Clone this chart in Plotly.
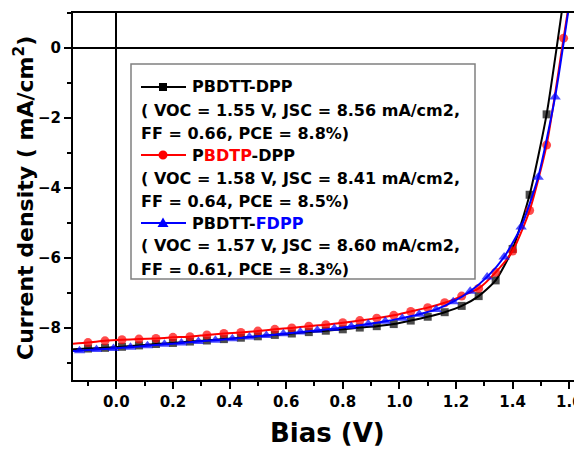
import plotly.graph_objects as go

# ---------------- data ----------------
bias_dpp = [-0.153, -0.10, -0.04, 0.02, 0.08, 0.14, 0.20, 0.26, 0.32, 0.38, 0.44, 0.50, 0.56, 0.62, 0.68,
            0.74, 0.80, 0.86, 0.92, 0.98, 1.04, 1.10, 1.16, 1.22, 1.28, 1.34, 1.40, 1.46, 1.52, 1.58, 1.64]
j_pbdtt_dpp = [-8.62, -8.60, -8.58, -8.55, -8.51, -8.47, -8.44, -8.40, -8.37, -8.33, -8.29, -8.25, -8.21, -8.17, -8.13,
               -8.09, -8.05, -8.00, -7.96, -7.90, -7.80, -7.69, -7.56, -7.38, -7.10, -6.65, -5.75, -4.20, -1.90, 1.40,
               4.80]
j_pbdtp_dpp = [-8.46, -8.43, -8.38, -8.35, -8.33, -8.31, -8.28, -8.26, -8.21, -8.17, -8.14, -8.10, -8.05, -8.01, -7.96,
               -7.92, -7.86, -7.80, -7.73, -7.65, -7.54, -7.43, -7.29, -7.10, -6.88, -6.42, -5.81, -4.65, -2.78, 0.28,
               3.40]
bias_fdpp = [-0.153, -0.13, -0.07, -0.01, 0.05, 0.11, 0.17, 0.23, 0.29, 0.35, 0.41, 0.47, 0.53, 0.59, 0.65,
             0.71, 0.77, 0.83, 0.89, 0.95, 1.01, 1.07, 1.13, 1.19, 1.25, 1.31, 1.37, 1.43, 1.49, 1.55, 1.61]
j_pbdtt_fdpp = [-8.67, -8.66, -8.63, -8.60, -8.56, -8.52, -8.48, -8.44, -8.40, -8.36, -8.32, -8.27, -8.23, -8.18, -8.13,
                -8.08, -8.03, -7.97, -7.90, -7.82, -7.73, -7.62, -7.48, -7.26, -6.96, -6.55, -5.98, -5.12, -3.70,
                -1.40, 1.80]

series_names = ["PBDTT-DPP", "PBDTP-DPP", "PBDTT-FDPP"]
series_colors = ["#000000", "#ff0000", "#0000ff"]
series_symbols = ["square", "circle", "triangle-up"]
legend_titles = ["PBDTT-DPP",
                 "P<span style='color:#ff0000'>BDTP</span>-DPP",
                 "PBDTT-<span style='color:#0000ff'>FDPP</span>"]
legend_lines = [("( VOC = 1.55 V, JSC = 8.56 mA/cm2,", "FF = 0.66, PCE = 8.8%)"),
                ("( VOC = 1.58 V, JSC = 8.41 mA/cm2,", "FF = 0.64, PCE = 8.5%)"),
                ("( VOC = 1.57 V, JSC = 8.60 mA/cm2,", "FF = 0.61, PCE = 8.3%)")]

x_tick_vals = [0.0, 0.2, 0.4, 0.6, 0.8, 1.0, 1.2, 1.4, 1.6]
y_tick_vals = [-8, -6, -4, -2, 0]

FONT = "DejaVu Sans"

# ---------------- figure ----------------
# page body has an 8px default margin; lay the figure out in reference pixels
OFF = 8
W, H = 582 - OFF, 451 - OFF
L, R, T, B = 73, 582, 13, 380  # plot area in reference pixels


def px(x):
    return (x - L) / (R - L)


def py(y):
    return (B - y) / (B - T)


fig = go.Figure()
xs_list = [bias_dpp, bias_dpp, bias_fdpp]
ys_list = [j_pbdtt_dpp, j_pbdtp_dpp, j_pbdtt_fdpp]
msizes = [8, 9, 10]
for name, xs, ys, c, s, ms in zip(series_names, xs_list, ys_list, series_colors, series_symbols, msizes):
    sizes = [0] + [ms] * (len(xs) - 1)  # first point is the line start at the axis, no marker
    fig.add_trace(go.Scatter(
        x=xs, y=ys, name=name, mode="lines+markers",
        line=dict(color=c, width=2, shape="spline", smoothing=0.6),
        marker=dict(symbol=s, size=sizes, color=c, line=dict(width=0)),
        showlegend=False,
    ))

axis_common = dict(
    showgrid=False, showline=True, linecolor="black", linewidth=2,
    ticks="outside", ticklen=7, tickwidth=2, tickcolor="black",
    zeroline=True, zerolinecolor="black", zerolinewidth=2,
    ticklabeloverflow="allow",
    tickfont=dict(family=FONT, size=15, color="black", weight="bold"),
)

fig.update_xaxes(
    range=[-0.153, 1.645], tickvals=x_tick_vals, tickformat=".1f", mirror=True,
    minor=dict(dtick=0.1, tick0=0, ticks="outside", ticklen=4, tickwidth=2, tickcolor="black"),
    **axis_common,
)
fig.update_yaxes(
    range=[-9.5, 1.0], tickvals=y_tick_vals, mirror=False,
    minor=dict(dtick=1, tick0=0, ticks="outside", ticklen=4, tickwidth=2, tickcolor="black"),
    **axis_common,
)

shapes = [dict(type="rect", xref="paper", yref="paper",
               x0=px(131), x1=px(475), y0=py(279), y1=py(64),
               line=dict(color="#808080", width=1.5), fillcolor="rgba(0,0,0,0)")]
annotations = []
entry_y = [87, 155, 223]
for i, (ey, c, s) in enumerate(zip(entry_y, series_colors, series_symbols)):
    shapes.append(dict(type="line", xref="paper", yref="paper",
                       x0=px(141), x1=px(186), y0=py(ey), y1=py(ey),
                       line=dict(color=c, width=2)))
    cx = 163
    if s == "square":
        shapes.append(dict(type="rect", xref="paper", yref="paper",
                           x0=px(cx - 4), x1=px(cx + 4), y0=py(ey + 4), y1=py(ey - 4),
                           line=dict(width=0), fillcolor=c))
    elif s == "circle":
        shapes.append(dict(type="circle", xref="paper", yref="paper",
                           x0=px(cx - 4.5), x1=px(cx + 4.5), y0=py(ey + 4.5), y1=py(ey - 4.5),
                           line=dict(width=0), fillcolor=c))
    else:
        path = "M {} {} L {} {} L {} {} Z".format(px(cx - 5.5), py(ey + 4), px(cx + 5.5), py(ey + 4),
                                                 px(cx), py(ey - 5.5))
        shapes.append(dict(type="path", xref="paper", yref="paper", path=path,
                           line=dict(width=0), fillcolor=c))
    annotations.append(dict(xref="paper", yref="paper", x=px(190), y=py(ey),
                            xanchor="left", yanchor="middle", showarrow=False,
                            text=legend_titles[i],
                            font=dict(family=FONT, size=16, color="black", weight="bold")))
    for k, line in enumerate(legend_lines[i]):
        annotations.append(dict(xref="paper", yref="paper", x=px(139), y=py(ey + 23 * (k + 1)),
                                xanchor="left", yanchor="middle", showarrow=False, text=line,
                                font=dict(family=FONT, size=16, color="black", weight="bold")))

annotations.append(dict(xref="paper", yref="paper", x=px(327), y=py(433),
                        xanchor="center", yanchor="middle", showarrow=False, text="Bias (V)",
                        font=dict(family=FONT, size=26, color="black", weight="bold")))
annotations.append(dict(xref="paper", yref="paper", x=px(24), y=py(198),
                        xanchor="center", yanchor="middle", showarrow=False, textangle=-90,
                        text="Current density ( mA/cm<sup>2</sup>)",
                        font=dict(family=FONT, size=22, color="black", weight="bold")))

fig.update_layout(
    width=W, height=H,
    margin=dict(l=L - OFF, r=W - (R - OFF), t=T - OFF, b=H - (B - OFF), pad=0),
    paper_bgcolor="white", plot_bgcolor="white",
    shapes=shapes, annotations=annotations,
    showlegend=False,
)

fig.write_html("out.html")
